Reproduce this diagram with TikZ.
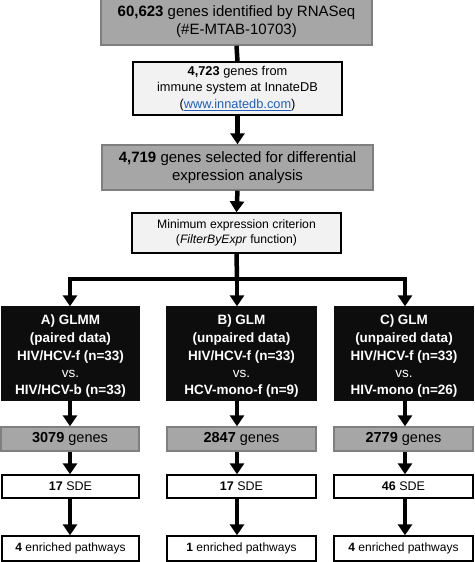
\documentclass[tikz,border=0pt]{standalone}
\usepackage{fontspec}
\setmainfont{Liberation Sans}
\usetikzlibrary{arrows.meta}
\definecolor{boxgray}{HTML}{A6A6A6}
\definecolor{graybord}{HTML}{7F7F7F}
\definecolor{lightbox}{HTML}{F2F2F2}
\definecolor{darkbox}{HTML}{0D0D0D}
\definecolor{linkblue}{HTML}{1F5FBF}
\begin{document}
\begin{tikzpicture}[x=1pt,y=1pt,
  base/.style={draw, line width=1.4pt, inner sep=0pt, align=center},
  graybox/.style={base, draw=graybord, fill=boxgray},
  lightbox/.style={base, draw=black, fill=lightbox},
  blackbox/.style={base, draw=darkbox, fill=darkbox},
  blacktext/.style={text=white, align=center, inner sep=0pt, yshift=-2.5pt, font=\bfseries\fontsize{13.5}{18}\selectfont},
  whitebox/.style={base, draw=black, fill=white},
  arr/.style={line width=4.5pt, -{Triangle[length=11pt,width=14pt]}},
  ln/.style={line width=4.5pt}
]
\useasboundingbox (0,0) rectangle (474,-562);
\fill[white] (0,0) rectangle (474,-562);

\node[graybox, minimum width=271, minimum height=47, font=\fontsize{15}{18.5}\selectfont] (b1) at (236.5,-21.5)
  {\textbf{60,623} genes identified by RNASeq\\(\#E-MTAB-10703)};
\node[lightbox, minimum width=209, minimum height=53, font=\fontsize{12.8}{16.5}\selectfont] (b2) at (237.5,-88.5)
  {\textbf{4,723} genes from\\immune system at InnateDB\\(\textcolor{linkblue}{\underline{www.innatedb.com}})};
\node[graybox, minimum width=271, minimum height=45, font=\fontsize{15}{18.5}\selectfont] (b3) at (237.5,-167.5)
  {\textbf{4,719} genes selected for differential\\expression analysis};
\node[lightbox, minimum width=209, minimum height=40, font=\fontsize{12.2}{15.5}\selectfont] (b4) at (236.5,-233)
  {Minimum expression criterion\\(\textit{FilterByExpr} function)};

\draw[ln] (b1.south) -- (b2.north);
\draw[arr] (b2.south) -- (b3.north);
\draw[arr] (b3.south) -- (b4.north);

% columns
\coordinate (cA) at (70,-279);
\coordinate (cB) at (237,-279);
\coordinate (cC) at (405,-279);

\node[blackbox, minimum width=137, minimum height=93] (A) at (70.5,-353.5) {};
\node[blacktext] (At) at (A.center)
  {A) GLMM\\(paired data)\\HIV/HCV-f (n=33)\\[-1pt]{\normalfont vs.}\\[-1pt]HIV/HCV-b (n=33)};
\node[blackbox, minimum width=149, minimum height=93] (B) at (241.5,-353.5) {};
\node[blacktext] (Bt) at (B.center)
  {B) GLM\\(unpaired data)\\HIV/HCV-f (n=33)\\[-1pt]{\normalfont vs.}\\[-1pt]HCV-mono-f (n=9)};
\node[blackbox, minimum width=138, minimum height=93] (C) at (404,-353.5) {};
\node[blacktext] (Ct) at (C.center)
  {C) GLM\\(unpaired data)\\HIV/HCV-f (n=33)\\[-1pt]{\normalfont vs.}\\[-1pt]HIV-mono (n=26)};

\draw[ln] (b4.south) -- (cB);
\draw[ln, line cap=rect] (cA) -- (cC);
\draw[arr] (cA) -- (cA |- A.north);
\draw[arr] (cB) -- (cB |- B.north);
\draw[arr] (cC) -- (cC |- C.north);

\node[graybox, minimum width=138, minimum height=24, font=\fontsize{14.5}{18}\selectfont] (gA) at (70,-439) {\textbf{3079} genes};
\node[graybox, minimum width=149, minimum height=24, font=\fontsize{14.5}{18}\selectfont] (gB) at (241.5,-439) {\textbf{2847} genes};
\node[graybox, minimum width=139, minimum height=24, font=\fontsize{14.5}{18}\selectfont] (gC) at (403.5,-439) {\textbf{2779} genes};

\node[whitebox, minimum width=137, minimum height=23, font=\fontsize{12.5}{16}\selectfont] (sA) at (70.5,-486.5) {\textbf{17} SDE};
\node[whitebox, minimum width=149, minimum height=23, font=\fontsize{12.5}{16}\selectfont] (sB) at (241.5,-486.5) {\textbf{17} SDE};
\node[whitebox, minimum width=139, minimum height=23, font=\fontsize{12.5}{16}\selectfont] (sC) at (403.5,-486.5) {\textbf{46} SDE};

\node[whitebox, minimum width=137, minimum height=25, font=\fontsize{12}{15}\selectfont] (pA) at (70.5,-548.5) {\textbf{4} enriched pathways};
\node[whitebox, minimum width=149, minimum height=25, font=\fontsize{12}{15}\selectfont] (pB) at (241.5,-548.5) {\textbf{1} enriched pathways};
\node[whitebox, minimum width=139, minimum height=25, font=\fontsize{12}{15}\selectfont] (pC) at (403.5,-548.5) {\textbf{4} enriched pathways};

\draw[arr] (cA |- A.south) -- (cA |- gA.north);
\draw[arr] (cB |- B.south) -- (cB |- gB.north);
\draw[arr] (cC |- C.south) -- (cC |- gC.north);
\draw[arr] (cA |- gA.south) -- (cA |- sA.north);
\draw[arr] (cB |- gB.south) -- (cB |- sB.north);
\draw[arr] (cC |- gC.south) -- (cC |- sC.north);
\draw[arr] (cA |- sA.south) -- (cA |- pA.north);
\draw[arr] (cB |- sB.south) -- (cB |- pB.north);
\draw[arr] (cC |- sC.south) -- (cC |- pC.north);
\end{tikzpicture}
\end{document}
